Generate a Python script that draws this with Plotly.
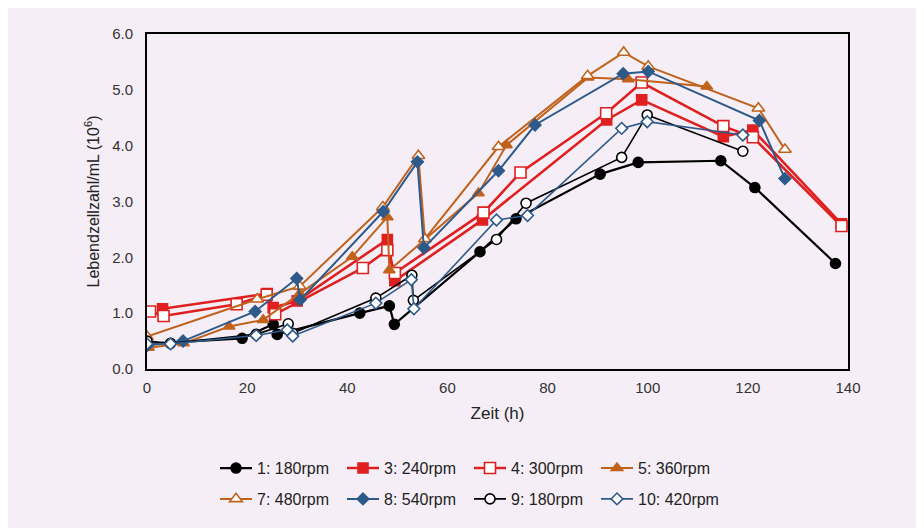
import plotly.graph_objects as go

# ---- data ----
s1_x = [0, 19, 25.2, 26, 42.5, 48.4, 49.4, 66.5, 73.7, 90.5, 98.1, 114.6, 121.4, 137.5]
s1_y = [0.45, 0.55, 0.80, 0.62, 1.00, 1.13, 0.80, 2.10, 2.69, 3.49, 3.70, 3.73, 3.25, 1.89]

s3_x = [3.1, 24.0, 25.2, 30.0, 48.0, 49.5, 67.0, 91.8, 98.8, 115.1, 121.0, 138.7]
s3_y = [1.08, 1.35, 1.10, 1.22, 2.32, 1.58, 2.67, 4.46, 4.82, 4.16, 4.28, 2.60]

s4_x = [0.6, 3.3, 17.9, 23.9, 25.6, 43.1, 48.0, 49.5, 67.2, 74.6, 91.7, 98.8, 115.1, 121.0, 138.7]
s4_y = [1.03, 0.95, 1.16, 1.33, 0.98, 1.81, 2.13, 1.72, 2.80, 3.52, 4.58, 5.13, 4.35, 4.15, 2.56]

s5_x = [0.3, 7.3, 16.4, 23.2, 30.5, 41.0, 48.0, 48.4, 66.2, 71.8, 88.1, 96.1, 111.8]
s5_y = [0.38, 0.46, 0.76, 0.88, 1.35, 2.01, 2.72, 1.77, 3.15, 4.01, 5.22, 5.19, 5.06]

s7_x = [0, 22.0, 30.5, 47.1, 54.2, 55.5, 70.2, 88.0, 95.2, 100.1, 122.1, 127.4]
s7_y = [0.58, 1.25, 1.48, 2.90, 3.82, 2.33, 3.98, 5.25, 5.67, 5.42, 4.67, 3.93]

s8_x = [0, 7.2, 21.6, 29.9, 30.6, 47.2, 54.0, 55.3, 70.2, 77.5, 95.1, 100.1, 122.3, 127.4]
s8_y = [0.42, 0.50, 1.03, 1.62, 1.24, 2.82, 3.71, 2.17, 3.55, 4.37, 5.29, 5.33, 4.45, 3.41]

s9_x = [0, 4.7, 21.8, 28.2, 29.1, 45.7, 52.9, 53.2, 69.8, 75.7, 94.8, 99.9, 119.0]
s9_y = [0.50, 0.46, 0.62, 0.81, 0.64, 1.27, 1.68, 1.23, 2.32, 2.97, 3.79, 4.55, 3.90]

s10_x = [0, 4.7, 21.8, 28.0, 29.1, 45.7, 52.8, 53.3, 69.8, 76.0, 94.8, 99.9, 119.0]
s10_y = [0.45, 0.45, 0.60, 0.70, 0.59, 1.18, 1.60, 1.08, 2.67, 2.75, 4.31, 4.43, 4.19]

names = ["1: 180rpm", "3: 240rpm", "4: 300rpm", "5: 360rpm",
         "7: 480rpm", "8: 540rpm", "9: 180rpm", "10: 420rpm"]

x_ticks = [0, 20, 40, 60, 80, 100, 120, 140]
y_ticks = [0, 1, 2, 3, 4, 5, 6]

BG = "#F6EEF6"
RED = "#E02020"
ORANGE = "#C0621C"
BLUE = "#2E5A8A"
BLACK = "#000000"

series = [
    (s1_x, s1_y, names[0], BLACK, "circle", BLACK, BLACK, 10, 2.2, "legend"),
    (s3_x, s3_y, names[1], RED, "square", RED, RED, 10, 2.6, "legend"),
    (s4_x, s4_y, names[2], RED, "square", "white", RED, 11, 2.6, "legend"),
    (s5_x, s5_y, names[3], ORANGE, "triangle-up", ORANGE, ORANGE, 10, 2.0, "legend"),
    (s7_x, s7_y, names[4], ORANGE, "triangle-up", "white", ORANGE, 11, 2.0, "legend2"),
    (s8_x, s8_y, names[5], BLUE, "diamond", BLUE, BLUE, 9, 2.0, "legend2"),
    (s9_x, s9_y, names[6], BLACK, "circle", "white", BLACK, 10, 1.6, "legend2"),
    (s10_x, s10_y, names[7], BLUE, "diamond", "white", BLUE, 9, 1.6, "legend2"),
]

fig = go.Figure()
for xs, ys, nm, lc, sym, fill, mline, msz, lw, lg in series:
    fig.add_trace(go.Scatter(
        x=xs, y=ys, name=nm, mode="lines+markers",
        line=dict(color=lc, width=lw),
        marker=dict(symbol=sym, size=msz, color=fill,
                    line=dict(color=mline, width=1.6)),
        legend=lg,
    ))

font_family = "Liberation Sans, Arial, sans-serif"

legend_common = dict(orientation="h", x=0.097, xanchor="left", yanchor="middle",
                     bgcolor="rgba(0,0,0,0)", font=dict(size=16, color="#222222"),
                     entrywidth=80, entrywidthmode="pixels", itemwidth=32,
                     traceorder="normal")

fig.update_layout(
    width=924, height=528,
    margin=dict(l=139, r=84, t=26, b=167),
    paper_bgcolor=BG, plot_bgcolor=BG,
    font=dict(family=font_family, size=15, color="#333333"),
    showlegend=True,
    legend=dict(y=-0.296, **legend_common),
    legend2=dict(y=-0.388, **legend_common),
)

fig.update_xaxes(
    range=[0, 140], tickvals=x_ticks, ticktext=[str(v) for v in x_ticks],
    showline=True, linecolor="black", linewidth=2, mirror=True,
    showgrid=False, zeroline=False, ticks="outside", ticklen=4, tickcolor=BG,
    tickfont=dict(size=15, color="#333333"),
    title=dict(text="Zeit (h)", font=dict(size=17, color="#222222"), standoff=12),
)
fig.update_yaxes(
    range=[0, 6], tickvals=y_ticks, ticktext=[f"{v:.1f}" for v in y_ticks],
    showline=True, linecolor="black", linewidth=2, mirror=True,
    showgrid=False, zeroline=False, ticks="outside", ticklen=9, tickcolor=BG,
    tickfont=dict(size=15, color="#333333"),
    title=dict(text="Lebendzellzahl/mL (10<sup>6</sup>)", font=dict(size=16, color="#222222"), standoff=9),
)

fig.write_html("out.html")
